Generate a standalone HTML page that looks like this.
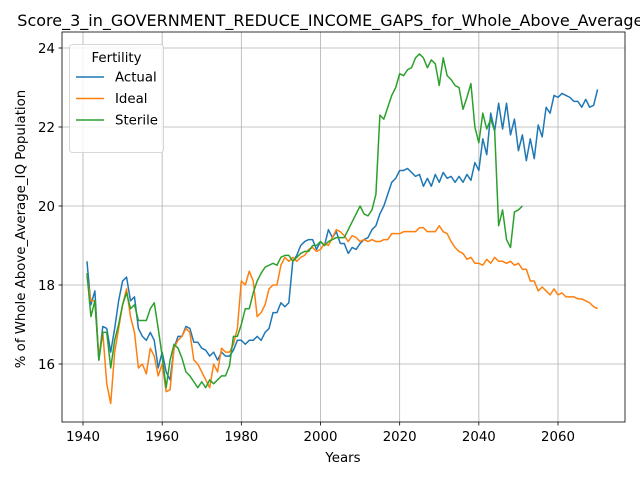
<!DOCTYPE html>
<html><head><meta charset="utf-8"><style>
body{margin:0;background:#fff;}
svg{display:block;font-family:"DejaVu Sans","Liberation Sans",sans-serif;}
</style></head><body>
<svg id="chart" width="640" height="480" viewBox="0 0 640 480"></svg>
<script>
const startYear = 1941;
const actualValues = [18.6,17.5,17.85,16.1,16.95,16.9,16.3,16.9,17.6,18.1,18.2,17.6,17.7,16.9,16.7,16.6,16.8,16.6,15.9,16.3,15.8,15.6,16.4,16.7,16.7,16.95,16.9,16.55,16.55,16.4,16.35,16.2,16.3,16.1,16.3,16.2,16.2,16.35,16.6,16.6,16.5,16.6,16.6,16.7,16.6,16.8,16.9,17.3,17.3,17.55,17.45,17.55,18.6,18.75,19.0,19.1,19.15,19.15,18.9,19.1,19.0,19.4,19.2,19.35,19.05,19.05,18.8,18.95,18.9,19.05,19.15,19.2,19.4,19.5,19.8,20.0,20.3,20.6,20.7,20.9,20.9,20.95,20.85,20.75,20.8,20.5,20.7,20.5,20.8,20.6,20.85,20.7,20.75,20.6,20.75,20.6,20.8,20.65,21.1,20.9,21.7,21.3,22.35,21.9,22.6,21.95,22.6,21.8,22.2,21.4,21.8,21.15,21.7,21.2,22.05,21.75,22.5,22.35,22.8,22.75,22.85,22.8,22.75,22.65,22.65,22.5,22.7,22.5,22.55,22.95];
const idealValues = [18.2,17.6,17.6,16.2,16.8,15.5,15.0,16.3,16.9,17.5,17.9,17.2,16.8,15.9,16.0,15.75,16.4,16.2,15.7,16.0,15.3,15.35,16.4,16.6,16.7,16.9,16.8,16.1,16.0,15.8,15.6,15.4,16.0,15.8,16.4,16.3,16.3,16.5,16.9,18.1,18.0,18.35,18.1,17.2,17.3,17.5,17.9,18.0,18.0,18.5,18.7,18.6,18.7,18.6,18.7,18.75,18.9,18.95,18.85,18.9,19.05,19.0,19.2,19.4,19.35,19.25,19.1,19.25,19.2,19.1,19.15,19.1,19.15,19.1,19.1,19.15,19.15,19.3,19.3,19.3,19.35,19.35,19.35,19.35,19.45,19.45,19.35,19.35,19.35,19.5,19.35,19.3,19.1,18.95,18.85,18.8,18.65,18.7,18.55,18.55,18.5,18.65,18.55,18.7,18.6,18.6,18.55,18.6,18.5,18.55,18.4,18.4,18.1,18.1,17.85,17.95,17.85,17.75,17.9,17.75,17.8,17.7,17.7,17.7,17.65,17.65,17.6,17.55,17.45,17.4];
const sterileValues = [18.3,17.2,17.6,16.1,16.8,16.8,15.9,16.6,17.0,17.5,17.8,17.4,17.5,17.1,17.1,17.1,17.4,17.55,16.9,16.2,15.4,16.1,16.5,16.4,16.15,15.8,15.7,15.55,15.4,15.55,15.4,15.6,15.5,15.6,15.7,15.7,15.95,16.7,16.7,17.0,17.4,17.4,17.8,18.1,18.3,18.45,18.5,18.55,18.5,18.7,18.75,18.75,18.6,18.7,18.8,18.85,18.85,19.0,19.0,19.1,19.0,19.1,19.15,19.2,19.2,19.2,19.4,19.6,19.8,20.0,19.8,19.75,19.9,20.3,22.3,22.2,22.5,22.8,23.0,23.35,23.3,23.45,23.5,23.75,23.85,23.75,23.5,23.7,23.6,23.05,23.75,23.3,23.2,23.05,23.0,22.45,22.75,23.1,22.0,21.6,22.35,21.95,22.2,21.9,19.5,19.9,19.15,18.95,19.85,19.9,20.0];
const xTicks = [1940,1960,1980,2000,2020,2040,2060];
const yTicks = [16,18,20,22,24];
const seriesNames = ["Actual","Ideal","Sterile"];
const seriesColors = ["#1f77b4","#ff7f0e","#2ca02c"];

const NS="http://www.w3.org/2000/svg";
const svg=document.getElementById('chart');
const L=62,R=625,T=32,B=422;
const FS=13.33;
const xS=y=>83+(y-1940)*(475/120);
const yS=v=>364-(v-16)*39.5;
function mk(tag,attrs,parent){const e=document.createElementNS(NS,tag);for(const k in attrs)e.setAttribute(k,attrs[k]);(parent||svg).appendChild(e);return e;}

xTicks.forEach(t=>{
  const g=mk('line',{x1:xS(t),x2:xS(t),y1:T,y2:B,stroke:'#b0b0b0','stroke-width':0.8});
  
  
  const tk=mk('line',{x1:xS(t),x2:xS(t),y1:B,y2:B+3.5,stroke:'#000','stroke-width':0.8});
  
  
  const tx=mk('text',{x:xS(t),y:B+19,'text-anchor':'middle','font-size':FS});
  tx.textContent=t;
  
  
});
yTicks.forEach(t=>{
  const g=mk('line',{x1:L,x2:R,y1:yS(t),y2:yS(t),stroke:'#b0b0b0','stroke-width':0.8});
  
  
  const tk=mk('line',{x1:L-3.5,x2:L,y1:yS(t),y2:yS(t),stroke:'#000','stroke-width':0.8});
  
  
  const tx=mk('text',{x:L-7,y:yS(t)+5,'text-anchor':'end','font-size':FS});
  tx.textContent=t;
  
  
});

[actualValues,idealValues,sterileValues].forEach((arr,i)=>{
  const d=arr.map((v,j)=>(j?'L':'M')+xS(startYear+j).toFixed(2)+','+yS(v).toFixed(2)).join('');
  const p=mk('path',{d:d,fill:'none',stroke:seriesColors[i],'stroke-width':1.5,'stroke-linejoin':'round'});
  
  
});

const fr=mk('rect',{x:L,y:T,width:R-L,height:B-T,fill:'none',stroke:'#000','stroke-width':0.8});



const ti=mk('text',{x:343,y:26,'text-anchor':'middle','font-size':16});
ti.textContent='Score_3_in_GOVERNMENT_REDUCE_INCOME_GAPS_for_Whole_Above_Average_IQ';


const xl=mk('text',{x:343,y:462,'text-anchor':'middle','font-size':FS});
xl.textContent='Years';


const yl=mk('text',{x:0,y:0,'text-anchor':'middle','font-size':FS,transform:'translate(25,229) rotate(-90)'});
yl.textContent='% of Whole Above_Average_IQ Population';



const lg=mk('g',{});


mk('rect',{x:69.5,y:44.5,width:94,height:108,rx:3,fill:'#fff','fill-opacity':0.8,stroke:'#ccc','stroke-width':0.8},lg);
const lt=mk('text',{x:116.5,y:62,'text-anchor':'middle','font-size':FS},lg);
lt.textContent='Fertility';
seriesNames.forEach((n,i)=>{
  const y=77+i*21.5;
  const ln=mk('line',{x1:76,x2:104,y1:y,y2:y,stroke:seriesColors[i],'stroke-width':1.5},lg);
  
  
  const t=mk('text',{x:115,y:y+4.5,'font-size':FS},lg);
  t.textContent=n;
  
  
});
</script>
</body></html>
